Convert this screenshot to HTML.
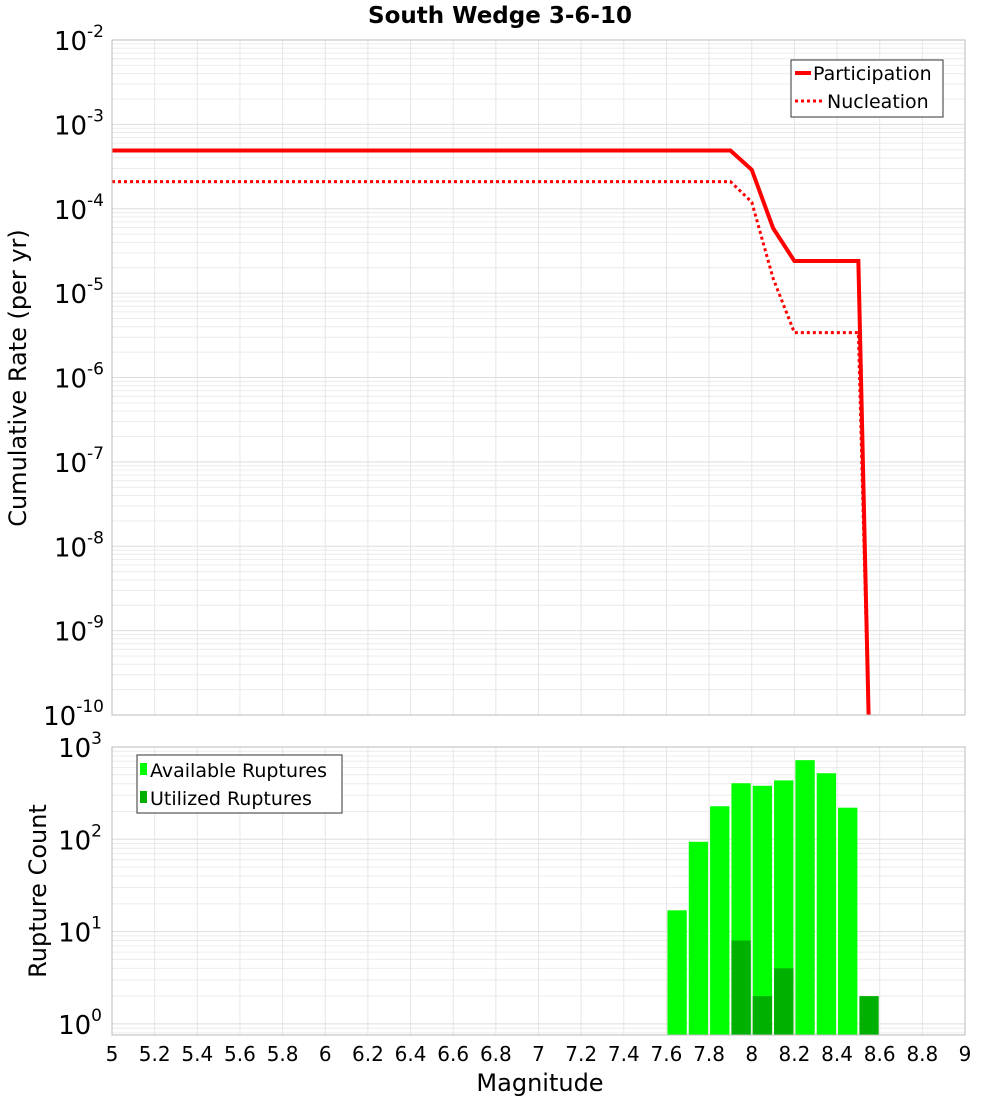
<!DOCTYPE html>
<html><head><meta charset="utf-8"><style>
body{margin:0;background:#fff;font-family:"Liberation Sans","DejaVu Sans",sans-serif}
svg text{font-family:"DejaVu Sans","Liberation Sans",sans-serif}
</style></head><body>
<svg id="c" width="1000" height="1100" xmlns="http://www.w3.org/2000/svg">
<text x="500" y="23" text-anchor="middle" font-size="23" font-weight="bold">South Wedge 3-6-10</text>
<g id="g"></g>
</svg>
<script>
const partMag=[5,7.9,8.0,8.1,8.2,8.5,8.55];
const partRate=[4.9e-4,4.9e-4,2.9e-4,5.9e-5,2.4e-5,2.4e-5,1e-12];
const nuclMag=[5,7.9,8.0,8.1,8.2,8.5,8.55];
const nuclRate=[2.1e-4,2.1e-4,1.2e-4,1.5e-5,3.4e-6,3.4e-6,1e-12];
const binMag=[7.65,7.75,7.85,7.95,8.05,8.15,8.25,8.35,8.45,8.55];
const availCount=[17,94,228,405,380,435,720,520,220,0];
const usedCount=[0,0,0,8,2,4,0,0,0,2];
const xTicks=["5","5.2","5.4","5.6","5.8","6","6.2","6.4","6.6","6.8","7","7.2","7.4","7.6","7.8","8","8.2","8.4","8.6","8.8","9"];

const NS="http://www.w3.org/2000/svg", g=document.getElementById('g');
function mk(t,a,p){const e=document.createElementNS(NS,t);for(const k in a)e.setAttribute(k,a[k]);(p||g).appendChild(e);return e;}
const X0=112,X1=965;
const x=m=>X0+(m-5)/4*(X1-X0);
const T0=40,T1=715; const yT=v=>T0+(-2-Math.log10(v))*(T1-T0)/8;
const B0=747,B1=1035,BD=92.3; const yB=v=>B0+(3-Math.log10(v))*BD;

function grid(top,bot,yf,dmin,dmax){
  for(let d=dmin;d<dmax;d++)for(let k=1;k<10;k++){const y=yf(k*Math.pow(10,d));if(y<top||y>bot)continue;
    const l=mk('line',{x1:X0,x2:X1,y1:y,y2:y,stroke:k==1?'#ddd':'#ececec','stroke-width':1});
    
    }
  xTicks.forEach(t=>{const xx=x(+t);const l=mk('line',{x1:xx,x2:xx,y1:top,y2:bot,stroke:'#e6e6e6'});
    
    });
}
grid(T0,T1,yT,-10,-1);grid(B0,B1,yB,-1,3);

function line(ms,vs,dash,name){const pts=ms.map((m,i)=>x(m)+','+Math.min(yT(vs[i]),T1+20)).join(' ');
  const p=mk('polyline',{points:pts,fill:'none',stroke:'#ff0000','stroke-width':dash?3:4,'stroke-dasharray':dash?'3,3':'none','clip-path':'url(#ct)'});
  
  }
const cp=mk('clipPath',{id:'ct'});mk('rect',{x:X0,y:T0,width:X1-X0,height:T1-T0},cp);
line(partMag,partRate,false,'participation-line');line(nuclMag,nuclRate,true,'nucleation-line');

const bw=(x(5.1)-x(5))-2;
binMag.forEach((m,i)=>{
  if(availCount[i]>0){const y=yB(availCount[i]);const r=mk('rect',{x:x(m)-bw/2,y:y,width:bw,height:B1-y,fill:'#00ff00'});
    
    }
  if(usedCount[i]>0){const y=yB(usedCount[i]);const r=mk('rect',{x:x(m)-bw/2,y:y,width:bw,height:B1-y,fill:'#00b000'});
    
    }
});

mk('rect',{x:X0,y:T0,width:X1-X0,height:T1-T0,fill:'none',stroke:'#bbb'});
mk('rect',{x:X0,y:B0,width:X1-X0,height:B1-B0,fill:'none',stroke:'#bbb'});

for(let d=-2;d>=-10;d--){const y=yT(Math.pow(10,d));const t=mk('text',{x:104,y:y+10,'text-anchor':'end','font-size':26});
  t.innerHTML='10<tspan dy="-13" font-size="17">'+d+'</tspan>';
  
  }
for(let d=3;d>=0;d--){const y=yB(Math.pow(10,d));const t=mk('text',{x:102,y:y+10,'text-anchor':'end','font-size':26});
  t.innerHTML='10<tspan dy="-13" font-size="17">'+d+'</tspan>';
  
  }
xTicks.forEach(s=>{const t=mk('text',{x:x(+s),y:1061,'text-anchor':'middle','font-size':20});t.textContent=s;
  
  });

let t=mk('text',{x:540,y:1091,'text-anchor':'middle','font-size':24});t.textContent='Magnitude';


t=mk('text',{x:26,y:378,'text-anchor':'middle','font-size':24,transform:'rotate(-90 26 378)'});t.textContent='Cumulative Rate (per yr)';


t=mk('text',{x:46,y:891,'text-anchor':'middle','font-size':24,transform:'rotate(-90 46 891)'});t.textContent='Rupture Count';



let lg=mk('g',{});


mk('rect',{x:791,y:60,width:152,height:57,fill:'#fff',stroke:'#333'},lg);
mk('line',{x1:795,x2:811,y1:73,y2:73,stroke:'#f00','stroke-width':4},lg);
mk('text',{x:813,y:80,'font-size':19},lg).textContent='Participation';
mk('line',{x1:795,x2:823,y1:101,y2:101,stroke:'#f00','stroke-width':3,'stroke-dasharray':'3,3'},lg);
mk('text',{x:827,y:108,'font-size':19},lg).textContent='Nucleation';
lg=mk('g',{});


mk('rect',{x:137,y:755,width:205,height:58,fill:'#fff',stroke:'#333'},lg);
mk('rect',{x:140,y:763,width:7,height:12,fill:'#00ff00'},lg);
mk('text',{x:150,y:777,'font-size':19},lg).textContent='Available Ruptures';
mk('rect',{x:140,y:791,width:7,height:12,fill:'#00b000'},lg);
mk('text',{x:150,y:805,'font-size':19},lg).textContent='Utilized Ruptures';
</script>
</body></html>
